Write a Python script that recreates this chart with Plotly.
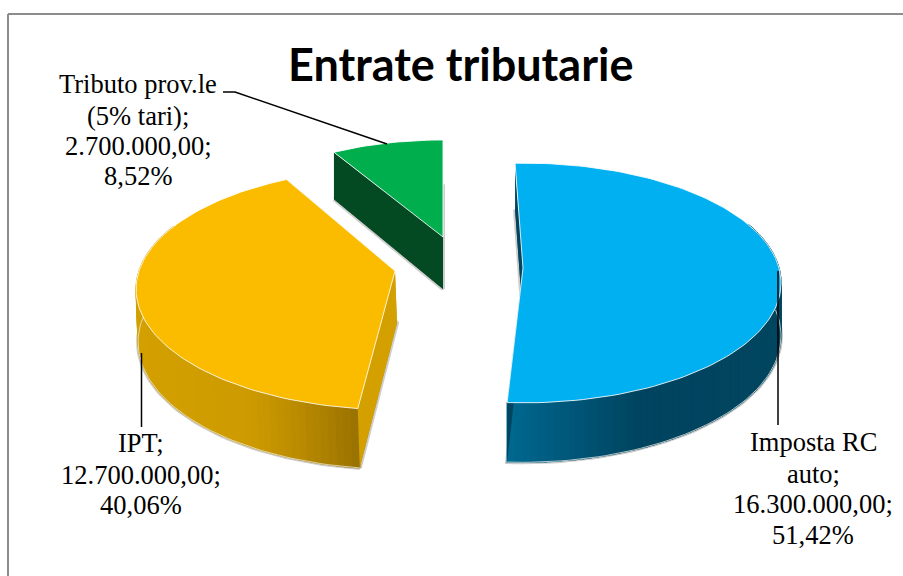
import math
import plotly.graph_objects as go

# ---- data ----
categories = ["Imposta RC auto", "IPT", "Tributo prov.le (5% tari)"]
values = [16300000, 12700000, 2700000]
percent_labels = ["51,42%", "40,06%", "8,52%"]
value_labels = ["16.300.000,00;", "12.700.000,00;", "2.700.000,00;"]
name_lines = [["Imposta RC", "auto;"], ["IPT;"], ["Tributo prov.le", "(5% tari);"]]
title_text = "Entrate tributarie"

# ---- styling / view ----
top_colors = ["#00B0F0", "#FBBC00", "#00AE4E"]
wall_colors = ["#01455F", "#D4A000", "#034A22"]
side_stops = [
    [(506, (0, 104, 144)), (640, (0, 68, 95)), (790, (1, 69, 95))],
    [(135, (212, 160, 0)), (250, (205, 155, 0)), (300, (185, 138, 0)), (360, (152, 112, 0))],
    [(300, (3, 74, 34)), (450, (3, 74, 34))],
]
apex = [(523, 268), (395, 271), (443, 237)]
size = [1.0, 1.0, 0.925]
persp = [0.125, 0.15, 0.125]
view_shift = [0, 4, 2]
depth_dx = [0, 2, 0]
start_angle = -2.0
A, B, K, DEPTH = 256.0, 118.0, 0.125, 52.0
W, H = 903, 576


def project(i, deg):
    t = math.radians(deg)
    d = 1 + persp[i] * math.cos(t)
    return (apex[i][0] + size[i] * A * math.sin(t) / d,
            apex[i][1] - size[i] * B * math.cos(t) / d)


def drop(deg):
    return DEPTH / (1 + K * math.cos(math.radians(deg)))


def color_at(stops, x):
    if x <= stops[0][0]:
        c = stops[0][1]
    elif x >= stops[-1][0]:
        c = stops[-1][1]
    else:
        for (x0, c0), (x1, c1) in zip(stops, stops[1:]):
            if x0 <= x <= x1:
                f = (x - x0) / (x1 - x0)
                c = tuple(round(a + (b - a) * f) for a, b in zip(c0, c1))
                break
    return "rgb(%d,%d,%d)" % tuple(c)


def poly(fig, xs, ys, fill, line=None, width=0.0):
    fig.add_trace(go.Scatter(
        x=xs + xs[:1], y=ys + ys[:1], mode="lines", fill="toself", fillcolor=fill,
        line=dict(color=line or fill, width=width), hoverinfo="skip", showlegend=False))


def stroke(fig, xs, ys, color, width):
    fig.add_trace(go.Scatter(x=xs, y=ys, mode="lines", line=dict(color=color, width=width),
                             hoverinfo="skip", showlegend=False))


fig = go.Figure()
total = sum(values)
spans = []
a = start_angle
for v in values:
    spans.append((a, a + 360.0 * v / total))
    a = spans[-1][1]

SHADOW = "rgba(90,90,90,0.3)"
EDGE = "rgba(255,255,255,0.85)"

for i in [2, 1, 0]:
    a0, a1 = spans[i][0] + view_shift[i], spans[i][1] + view_shift[i]
    n = max(2, int(round((a1 - a0) / 1.5)))
    degs = [a0 + (a1 - a0) * j / n for j in range(n + 1)]
    top = [project(i, d) for d in degs]
    low = [(p[0] + depth_dx[i], p[1] + drop(d)) for p, d in zip(top, degs)]
    ax, ay = apex[i]
    alow = (ax + depth_dx[i], ay + DEPTH)

    # soft shadow around the lower body (outline of the underside only)
    poly(fig, [p[0] for p in low] + [alow[0]], [p[1] for p in low] + [alow[1]],
         wall_colors[i], SHADOW, 4)

    # outer wall as vertical strips
    for j in range(n):
        if math.cos(math.radians(degs[j])) > 0.4:
            continue
        mid = (top[j][0] + top[j + 1][0]) / 2
        c = color_at(side_stops[i], mid)
        poly(fig, [top[j][0], top[j + 1][0], low[j + 1][0], low[j][0]],
             [top[j][1], top[j + 1][1], low[j + 1][1], low[j][1]], c, c, 1.2)

    # cut walls
    for j_end in (0, -1):
        poly(fig, [ax, top[j_end][0], low[j_end][0], alow[0]],
             [ay, top[j_end][1], low[j_end][1], alow[1]], wall_colors[i])

    # pale rim along the bottom of the outer wall
    front = [k for k, d in enumerate(degs) if math.cos(math.radians(d)) < 0.1]
    if front:
        stroke(fig, [low[k][0] for k in front], [low[k][1] for k in front], "rgba(235,235,225,0.75)", 1)

    # top face
    poly(fig, [p[0] for p in top] + [ax], [p[1] for p in top] + [ay], top_colors[i], EDGE, 1)

# leader lines
leaders = [
    ([778, 778], [271, 425]),
    ([141.5, 141.5], [353, 427]),
    ([223, 235, 387], [92, 92, 144]),
]
for lx, ly in leaders:
    stroke(fig, lx, ly, "#000000", 1.5)

# label text, one annotation per line to keep the original tight leading
label_pos = [(813, [442, 473.5, 504, 535]), (141, [443, 474.5, 505]), (138, [84, 115.5, 146, 176])]
for i, (cx, ys) in enumerate(label_pos):
    lines = name_lines[i] + [value_labels[i], percent_labels[i]]
    for txt, y in zip(lines, ys):
        fig.add_annotation(x=cx, y=y, text=txt, showarrow=False, xanchor="center", yanchor="middle",
                           font=dict(family="Liberation Serif", size=26.5, color="#000000"))

fig.add_annotation(x=460, y=64, text="<b>%s</b>" % title_text, showarrow=False, xanchor="center",
                   yanchor="middle", font=dict(family="Lato", size=45, color="#000000"))

# chart-area frame: only top and left edges fall inside the picture
stroke(fig, [8, 8], [H, 14], "#8C8C8C", 2)
stroke(fig, [8, W], [14, 14], "#8C8C8C", 2)

fig.update_layout(
    width=W, height=H, margin=dict(l=0, r=0, t=0, b=0),
    paper_bgcolor="#FFFFFF", plot_bgcolor="#FFFFFF", showlegend=False,
    xaxis=dict(range=[0, W], visible=False, fixedrange=True),
    yaxis=dict(range=[H, 0], visible=False, fixedrange=True),
)
fig.write_html("out.html", config={"displayModeBar": False},
               post_script="document.body.style.margin='0';")
